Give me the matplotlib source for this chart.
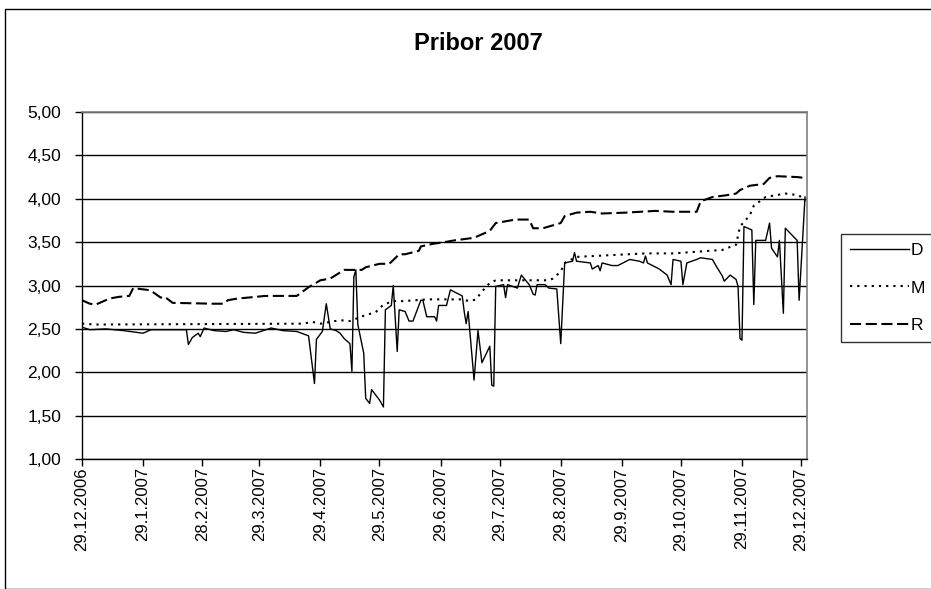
import matplotlib
matplotlib.use("Agg")
import matplotlib.pyplot as plt
from matplotlib.patches import Rectangle
import pandas as pd

plt.rcParams['font.family'] = ['Liberation Sans', 'DejaVu Sans']
plt.rcParams['lines.scale_dashes'] = False

title = "Pribor 2007"
series_names = ["D", "M", "R"]

d_dates = ["2006-12-29", "2007-01-02", "2007-01-10", "2007-01-19", "2007-01-29", "2007-02-02",
           "2007-02-20", "2007-02-21", "2007-02-23", "2007-02-26", "2007-02-27", "2007-03-01",
           "2007-03-06", "2007-03-12", "2007-03-16", "2007-03-21", "2007-03-27", "2007-04-04",
           "2007-04-10", "2007-04-17", "2007-04-23", "2007-04-26", "2007-04-27", "2007-04-30",
           "2007-05-02", "2007-05-04", "2007-05-07", "2007-05-09", "2007-05-11", "2007-05-14",
           "2007-05-15", "2007-05-16", "2007-05-17", "2007-05-18", "2007-05-21", "2007-05-22",
           "2007-05-24", "2007-05-25", "2007-05-29", "2007-05-31", "2007-06-01", "2007-06-04",
           "2007-06-05", "2007-06-07", "2007-06-08", "2007-06-11", "2007-06-13", "2007-06-15",
           "2007-06-19", "2007-06-20", "2007-06-22", "2007-06-26", "2007-06-27", "2007-06-28",
           "2007-07-02", "2007-07-04", "2007-07-10", "2007-07-11", "2007-07-12", "2007-07-13",
           "2007-07-16", "2007-07-18", "2007-07-20", "2007-07-24", "2007-07-25", "2007-07-26",
           "2007-07-27", "2007-07-31", "2007-08-01", "2007-08-02", "2007-08-07", "2007-08-09",
           "2007-08-13", "2007-08-15", "2007-08-16", "2007-08-17", "2007-08-21", "2007-08-23",
           "2007-08-27", "2007-08-29", "2007-08-31", "2007-09-04", "2007-09-05", "2007-09-06",
           "2007-09-13", "2007-09-14", "2007-09-17", "2007-09-18", "2007-09-19", "2007-09-24",
           "2007-09-27", "2007-10-03", "2007-10-08", "2007-10-10", "2007-10-11", "2007-10-12",
           "2007-10-18", "2007-10-22", "2007-10-24", "2007-10-25", "2007-10-29", "2007-10-30",
           "2007-11-01", "2007-11-06", "2007-11-08", "2007-11-14", "2007-11-16", "2007-11-19",
           "2007-11-20", "2007-11-23", "2007-11-26", "2007-11-27", "2007-11-28", "2007-11-29",
           "2007-11-30", "2007-12-04", "2007-12-05", "2007-12-06", "2007-12-11", "2007-12-13",
           "2007-12-14", "2007-12-17", "2007-12-18", "2007-12-20", "2007-12-21", "2007-12-27",
           "2007-12-28", "2007-12-31"]
d_values = [2.52, 2.49, 2.50, 2.48, 2.45, 2.49,
            2.49, 2.32, 2.40, 2.45, 2.41, 2.51,
            2.48, 2.47, 2.49, 2.46, 2.45, 2.51,
            2.48, 2.47, 2.42, 1.87, 2.38, 2.47,
            2.79, 2.50, 2.48, 2.45, 2.39, 2.33,
            2.01, 3.10, 3.18, 2.55, 2.22, 1.70,
            1.64, 1.80, 1.68, 1.60, 2.72, 2.77,
            3.00, 2.24, 2.72, 2.70, 2.59, 2.59,
            2.83, 2.83, 2.64, 2.64, 2.59, 2.77,
            2.77, 2.95, 2.88, 2.70, 2.56, 2.70,
            1.91, 2.48, 2.11, 2.30, 1.85, 1.84,
            2.99, 3.01, 2.86, 3.01, 2.97, 3.12,
            3.01, 2.90, 2.89, 3.01, 3.01, 2.97,
            2.96, 2.33, 3.26, 3.28, 3.38, 3.28,
            3.26, 3.19, 3.23, 3.17, 3.26, 3.23,
            3.23, 3.30, 3.28, 3.26, 3.34, 3.26,
            3.19, 3.12, 3.01, 3.30, 3.28, 3.01,
            3.26, 3.30, 3.32, 3.30, 3.22, 3.11,
            3.05, 3.12, 3.07, 2.99, 2.39, 2.37,
            3.68, 3.64, 2.78, 3.52, 3.52, 3.72,
            3.43, 3.33, 3.52, 2.68, 3.66, 3.52,
            2.83, 4.02]

m_dates = ["2006-12-29", "2007-01-05", "2007-04-20", "2007-04-25", "2007-04-29", "2007-05-09",
           "2007-05-14", "2007-05-22", "2007-05-27", "2007-05-31", "2007-06-05", "2007-06-10",
           "2007-06-22", "2007-07-09", "2007-07-14", "2007-07-17", "2007-07-20", "2007-07-24",
           "2007-07-27", "2007-08-23", "2007-08-25", "2007-08-29", "2007-08-31", "2007-09-06",
           "2007-10-11", "2007-10-25", "2007-11-19", "2007-11-26", "2007-11-28", "2007-12-03",
           "2007-12-05", "2007-12-11", "2007-12-21", "2007-12-28", "2007-12-31"]
m_values = [2.56, 2.55, 2.56, 2.58, 2.56, 2.60,
            2.59, 2.66, 2.69, 2.78, 2.82, 2.82,
            2.84, 2.84, 2.82, 2.84, 2.93, 3.03,
            3.06, 3.06, 3.08, 3.16, 3.26, 3.33,
            3.37, 3.37, 3.41, 3.47, 3.68, 3.81,
            3.92, 4.02, 4.06, 4.04, 3.97]

r_dates = ["2006-12-29", "2007-01-02", "2007-01-05", "2007-01-08", "2007-01-12", "2007-01-17",
           "2007-01-22", "2007-01-24", "2007-01-31", "2007-02-02", "2007-02-07", "2007-02-09",
           "2007-02-13", "2007-03-06", "2007-03-11", "2007-03-13", "2007-03-18", "2007-03-23",
           "2007-04-01", "2007-04-17", "2007-04-23", "2007-04-29", "2007-05-04", "2007-05-09",
           "2007-05-11", "2007-05-20", "2007-05-22", "2007-05-29", "2007-06-03", "2007-06-08",
           "2007-06-11", "2007-06-18", "2007-06-19", "2007-06-25", "2007-07-01", "2007-07-06",
           "2007-07-16", "2007-07-19", "2007-07-24", "2007-07-27", "2007-08-06", "2007-08-13",
           "2007-08-15", "2007-08-20", "2007-08-23", "2007-08-29", "2007-08-31", "2007-09-06",
           "2007-09-13", "2007-09-19", "2007-10-01", "2007-10-16", "2007-10-25", "2007-11-06",
           "2007-11-08", "2007-11-14", "2007-11-21", "2007-11-26", "2007-11-28", "2007-12-03",
           "2007-12-10", "2007-12-13", "2007-12-17", "2007-12-27", "2007-12-31"]
r_values = [2.83, 2.79, 2.78, 2.81, 2.85, 2.87,
            2.88, 2.97, 2.95, 2.94, 2.86, 2.87,
            2.80, 2.79, 2.79, 2.83, 2.85, 2.86,
            2.88, 2.88, 2.98, 3.06, 3.08, 3.15,
            3.18, 3.18, 3.21, 3.25, 3.25, 3.36,
            3.36, 3.40, 3.45, 3.48, 3.50, 3.52,
            3.55, 3.58, 3.63, 3.72, 3.76, 3.76,
            3.66, 3.66, 3.68, 3.72, 3.80, 3.84,
            3.85, 3.83, 3.84, 3.86, 3.85, 3.85,
            3.97, 4.02, 4.04, 4.06, 4.10, 4.15,
            4.17, 4.24, 4.26, 4.25, 4.24]

x_tick_labels = ["29.12.2006", "29.1.2007", "28.2.2007", "29.3.2007", "29.4.2007", "29.5.2007",
                 "29.6.2007", "29.7.2007", "29.8.2007", "29.9.2007", "29.10.2007", "29.11.2007",
                 "29.12.2007"]
y_ticks = [1.0, 1.5, 2.0, 2.5, 3.0, 3.5, 4.0, 4.5, 5.0]

W, H = 931, 589
fig = plt.figure(figsize=(W / 100, H / 100), dpi=100)
ax = fig.add_axes([82 / W, 1 - 459 / H, (807 - 82) / W, (459 - 112) / H])

# chart area border
fig.patches.append(Rectangle((4.5 / W, 0), 1.2, 1 - 8.5 / H, transform=fig.transFigure,
                             fill=False, edgecolor='black', linewidth=1.0))

styles = {
    "D": dict(color='black', linewidth=1.0, linestyle='-'),
    "M": dict(color='black', linewidth=1.5, linestyle=(0, (1.6, 3.6))),
    "R": dict(color='black', linewidth=1.5, linestyle=(0, (8.0, 3.3))),
}
for name, dts, vals in [("D", d_dates, d_values), ("M", m_dates, m_values), ("R", r_dates, r_values)]:
    ax.plot(pd.to_datetime(dts), vals, label=name, **styles[name])

tick_dates = pd.to_datetime(x_tick_labels, format="%d.%m.%Y")
ax.set_xlim(pd.Timestamp("2006-12-29"), pd.Timestamp("2008-01-01"))
ax.set_xticks(tick_dates)
ax.set_xticklabels(x_tick_labels, rotation=90, fontsize=12, va='top', ha='center')

ax.set_ylim(1, 5)
ax.set_yticks(y_ticks)
ax.set_yticklabels([f"{v:.2f}".replace('.', ',') for v in y_ticks], fontsize=12.5)

ax.grid(axis='y', color='black', linewidth=1.0)
ax.set_axisbelow(True)
ax.tick_params(axis='both', direction='out', length=5, width=1.0, color='black')
ax.tick_params(axis='x', pad=1)
ax.tick_params(axis='y', pad=10)
for s in ['left', 'bottom']:
    ax.spines[s].set_color('black')
    ax.spines[s].set_linewidth(1.0)
for s in ['top', 'right']:
    ax.spines[s].set_color('#808080')
    ax.spines[s].set_linewidth(1.2)

fig.text(478 / W, 1 - 43 / H, title, ha='center', va='center', fontsize=17, fontweight='bold')

leg = ax.legend(loc='upper left', bbox_to_anchor=(841 / W, 1 - 334 / H, 110 / W, 100 / H),
                bbox_transform=fig.transFigure, mode='expand',
                frameon=True, fancybox=False, edgecolor='black', fontsize=12.5,
                handlelength=3.4, handletextpad=0.1, borderpad=0.5, labelspacing=1.3,
                borderaxespad=0)
leg.get_frame().set_linewidth(1.0)

fig.savefig("out.png", dpi=100)
